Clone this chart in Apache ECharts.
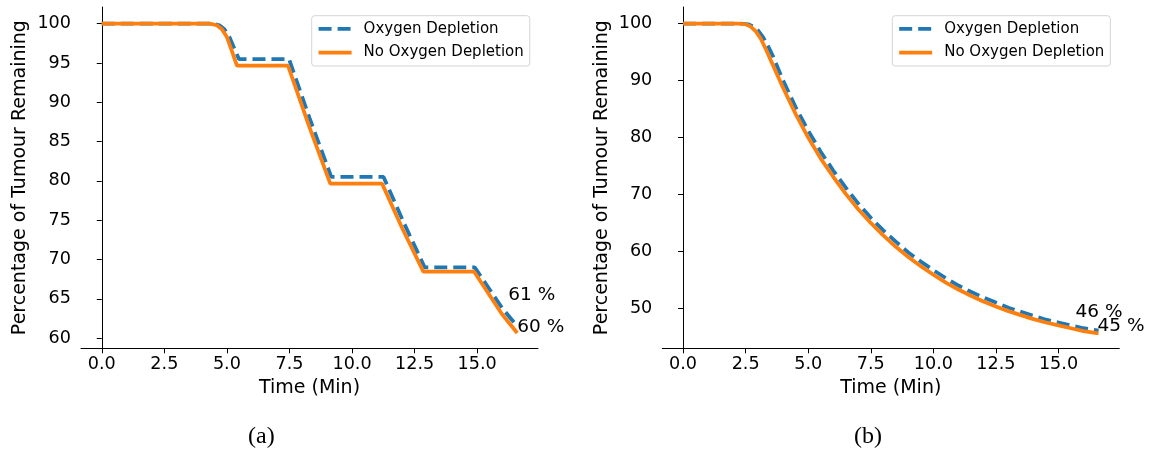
<!DOCTYPE html>
<html>
<head>
<meta charset="utf-8">
<title>Tumour remaining over time</title>
<script src="https://cdn.jsdelivr.net/npm/echarts@6/dist/echarts.min.js"></script>
<style>
  html, body { margin: 0; padding: 0; background: #ffffff; }
  #chart { width: 1151px; height: 456px; }
</style>
</head>
<body>
<div id="chart"></div>
<script>
// (a) stepped delivery
const timeA_oxy   = [0, 4.4, 4.7, 4.9, 5.1, 5.3, 5.48, 7.48, 8.3, 9.17, 11.26, 12.05, 12.9, 14.9, 16.0, 16.6];
const valueA_oxy  = [100, 100, 99.8, 99.3, 98.3, 96.8, 95.5, 95.5, 88.0, 80.5, 80.5, 74.8, 69.0, 69.0, 63.8, 61.5];
const timeA_noOxy  = [0, 4.3, 4.6, 4.8, 5.0, 5.2, 5.4, 7.44, 8.3, 9.13, 11.2, 12.0, 12.85, 14.88, 15.98, 16.6];
const valueA_noOxy = [100, 100, 99.8, 99.3, 98.3, 96.5, 94.65, 94.65, 86.8, 79.65, 79.65, 74.0, 68.45, 68.45, 63.1, 60.65];

// (b) continuous delivery
const timeB_oxy   = [0, 2.3, 2.6, 2.8, 3.0, 3.2, 3.4, 3.6, 4.0, 4.5, 5.0, 5.5, 6.0, 6.5, 7.0, 7.5, 8.0, 8.5, 9.0, 9.5, 10.0, 10.5, 11.0, 11.5, 12.0, 12.5, 13.0, 13.5, 14.0, 14.5, 15.0, 15.5, 16.0, 16.6];
const valueB_oxy  = [100, 100, 99.9, 99.5, 98.8, 97.6, 96.0, 94.2, 90.0, 85.3, 81.2, 77.5, 74.2, 71.2, 68.4, 65.9, 63.7, 61.7, 59.8, 58.2, 56.7, 55.3, 54.0, 52.9, 51.9, 51.0, 50.1, 49.4, 48.7, 48.0, 47.5, 47.0, 46.5, 46.1];
const timeB_noOxy  = [0, 2.2, 2.5, 2.7, 2.9, 3.1, 3.3, 3.5, 4.0, 4.5, 5.0, 5.5, 6.0, 6.5, 7.0, 7.5, 8.0, 8.5, 9.0, 9.5, 10.0, 10.5, 11.0, 11.5, 12.0, 12.5, 13.0, 13.5, 14.0, 14.5, 15.0, 15.5, 16.0, 16.6];
const valueB_noOxy = [100, 100, 99.9, 99.5, 98.7, 97.4, 95.6, 93.6, 88.7, 84.1, 80.0, 76.3, 73.1, 70.1, 67.4, 65.0, 62.8, 60.8, 59.0, 57.4, 55.9, 54.5, 53.3, 52.2, 51.2, 50.3, 49.5, 48.8, 48.1, 47.5, 47.0, 46.5, 46.0, 45.6];

// tick labels
const xTicks  = [0, 2.5, 5, 7.5, 10, 12.5, 15];
const yTicksA = [60, 65, 70, 75, 80, 85, 90, 95, 100];
const yTicksB = [50, 60, 70, 80, 90, 100];

const seriesNames = ['Oxygen Depletion', 'No Oxygen Depletion'];
const xTitle = 'Time (Min)';
const yTitle = 'Percentage of Tumour Remaining';
const captions = ['(a)', '(b)'];

const BLUE = '#1f77b4';
const ORANGE = '#ff7f0e';
const FONT = 'DejaVu Sans';
const TICK_FS = 17.6;
const TITLE_FS = 19;
const LINE_W = 3.75;
const DASH = [13, 6];

const zip = (t, v) => t.map((x, i) => [x, v[i]]);
const pctLabel = p => Math.floor(p.value[1]) + ' %';

function xAxis(gridIndex) {
  return {
    type: 'value', gridIndex,
    min: -0.83, max: 17.43,
    splitLine: { show: false },
    axisLine: { lineStyle: { color: '#000', width: 1 } },
    axisTick: { customValues: xTicks, length: 5, lineStyle: { color: '#000', width: 1 } },
    axisLabel: {
      customValues: xTicks, formatter: v => v.toFixed(1),
      color: '#000', fontFamily: FONT, fontSize: TICK_FS, margin: 7
    },
    name: xTitle, nameLocation: 'middle', nameGap: 26,
    nameTextStyle: { color: '#000', fontFamily: FONT, fontSize: TITLE_FS }
  };
}

function yAxis(gridIndex, min, max, ticks) {
  return {
    type: 'value', gridIndex, min, max,
    splitLine: { show: false },
    axisLine: { show: true, lineStyle: { color: '#000', width: 1 } },
    axisTick: { show: true, customValues: ticks, length: 5, lineStyle: { color: '#000', width: 1 } },
    axisLabel: {
      customValues: ticks, formatter: v => String(v),
      color: '#000', fontFamily: FONT, fontSize: TICK_FS, margin: 10
    },
    name: yTitle, nameLocation: 'middle', nameGap: 51,
    nameTextStyle: { color: '#000', fontFamily: FONT, fontSize: TITLE_FS }
  };
}

function lineSeries(name, data, idx, color, dashed, labelOffset) {
  return {
    name, type: 'line', xAxisIndex: idx, yAxisIndex: idx,
    data, symbol: 'none', showSymbol: false, animation: false,
    lineStyle: { color, width: LINE_W, type: dashed ? DASH : 'solid', cap: 'butt' },
    itemStyle: { color },
    endLabel: {
      show: true, formatter: pctLabel, distance: 0, offset: labelOffset,
      color: '#000', fontFamily: FONT, fontSize: 18.5
    },
    z: dashed ? 2 : 3
  };
}

function legend(left) {
  return {
    left, top: 15.7, orient: 'vertical',
    data: [
      { name: seriesNames[0], lineStyle: { color: BLUE, width: LINE_W, type: DASH, cap: 'butt' }, itemStyle: { opacity: 0 } },
      { name: seriesNames[1], lineStyle: { color: ORANGE, width: LINE_W, type: 'solid', cap: 'butt' }, itemStyle: { opacity: 0 } }
    ],
    itemWidth: 33, itemHeight: 14, itemGap: 8.7,
    padding: [5.6, 6, 6, 5],
    itemStyle: { opacity: 0 },
    borderColor: '#d4d4d4', borderWidth: 1, borderRadius: 3,
    backgroundColor: 'rgba(255,255,255,0.8)',
    textStyle: { color: '#000', fontFamily: FONT, fontSize: 15, padding: [0, 0, 0, 7] },
    selectedMode: false
  };
}

const chart = echarts.init(document.getElementById('chart'), null, { renderer: 'canvas' });
chart.setOption({
  backgroundColor: '#ffffff',
  animation: false,
  grid: [
    { left: 81, top: 7, width: 457, height: 341.3 },
    { left: 662.3, top: 7, width: 457, height: 341.3 }
  ],
  xAxis: [xAxis(0), xAxis(1)],
  yAxis: [yAxis(0, 58.7, 102.12, yTicksA), yAxis(1, 42.97, 102.93, yTicksB)],
  legend: [legend(311.7), legend(892.3)],
  series: [
    lineSeries(seriesNames[0], zip(timeA_oxy, valueA_oxy), 0, BLUE, true, [-9, -31]),
    lineSeries(seriesNames[1], zip(timeA_noOxy, valueA_noOxy), 0, ORANGE, false, [0, -6]),
    lineSeries(seriesNames[0], zip(timeB_oxy, valueB_oxy), 1, BLUE, true, [-23, -18]),
    lineSeries(seriesNames[1], zip(timeB_noOxy, valueB_noOxy), 1, ORANGE, false, [-1, -7])
  ],
  graphic: [
    { type: 'text', left: 248, top: 425, style: { text: captions[0], font: '24px "Liberation Serif"', fill: '#000' } },
    { type: 'text', left: 854, top: 425, style: { text: captions[1], font: '24px "Liberation Serif"', fill: '#000' } }
  ]
});
</script>
</body>
</html>
